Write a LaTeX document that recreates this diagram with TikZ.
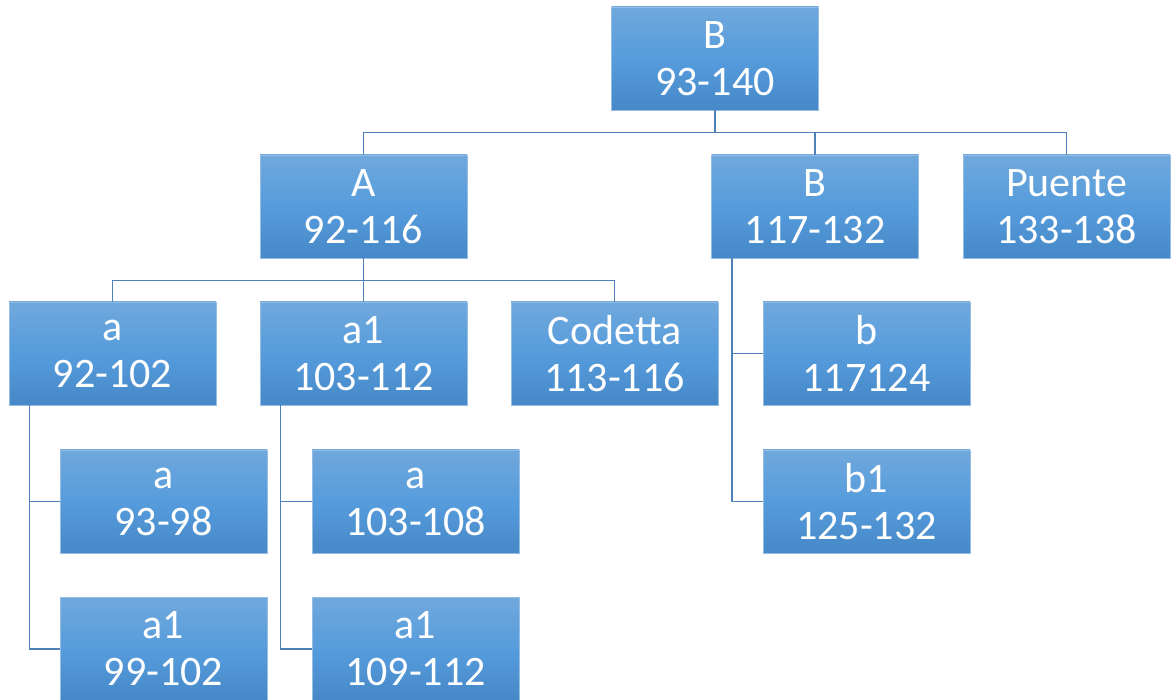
\documentclass[tikz,border=0pt]{standalone}
\usepackage{fontspec}
\setmainfont{Carlito}
\definecolor{btop}{RGB}{112,168,220}
\definecolor{bmid}{RGB}{86,156,220}
\definecolor{bbot}{RGB}{70,136,200}
\definecolor{bedge}{RGB}{150,190,228}
\definecolor{lnk}{RGB}{80,128,184}
\begin{document}
\begin{tikzpicture}[x=1pt,y=1pt,
  box/.style={rectangle, minimum width=207pt, minimum height=103pt, inner sep=0pt,
    top color=btop, bottom color=bbot, middle color=bmid, draw=bedge, line width=0.8pt,
    text=white, align=center, font=\fontsize{42}{47}\selectfont},
  link/.style={draw=lnk, line width=1.3pt}]
\useasboundingbox (0,0) rectangle (1171,-700);
\node[box] (root) at (715,-58.5) {B\\93-140};
\node[box] (A) at (363.5,-206.5) {A\\92-116};
\node[box] (B1) at (815,-206.5) {B\\117-132};
\node[box] (P) at (1066.5,-206.5) {Puente\\133-138};
\node[box] (a) at (112.5,-353.5) {a\\92-102};
\node[box] (a1) at (363.5,-353.5) {a1\\103-112};
\node[box] (cod) at (614.5,-353.5) {Codetta\\113-116};
\node[box] (b) at (866.5,-353.5) {b\\117124};
\node[box] (aa) at (163.5,-501.5) {a\\93-98};
\node[box] (a1a) at (415.5,-501.5) {a\\103-108};
\node[box] (b1) at (866.5,-501.5) {b1\\125-132};
\node[box] (aa1) at (163.5,-649) {a1\\99-102};
\node[box] (a1a1) at (415.5,-649) {a1\\109-112};
\begin{scope}[on background layer/.try]
\end{scope}
\draw[link] (root.south) -- ++(0,-22) -| (A.north);
\draw[link] (root.south) -- ++(0,-22) -| (B1.north);
\draw[link] (root.south) -- ++(0,-22) -| (P.north);
\draw[link] (A.south) -- ++(0,-22) -| (a.north);
\draw[link] (A.south) -- (a1.north);
\draw[link] (A.south) -- ++(0,-22) -| (cod.north);
\draw[link] ([xshift=21pt]a.south west) |- (aa.west);
\draw[link] ([xshift=21pt]a.south west) |- (aa1.west);
\draw[link] ([xshift=21pt]a1.south west) |- (a1a.west);
\draw[link] ([xshift=21pt]a1.south west) |- (a1a1.west);
\draw[link] ([xshift=21pt]B1.south west) |- (b.west);
\draw[link] ([xshift=21pt]B1.south west) |- (b1.west);
\end{tikzpicture}
\end{document}
